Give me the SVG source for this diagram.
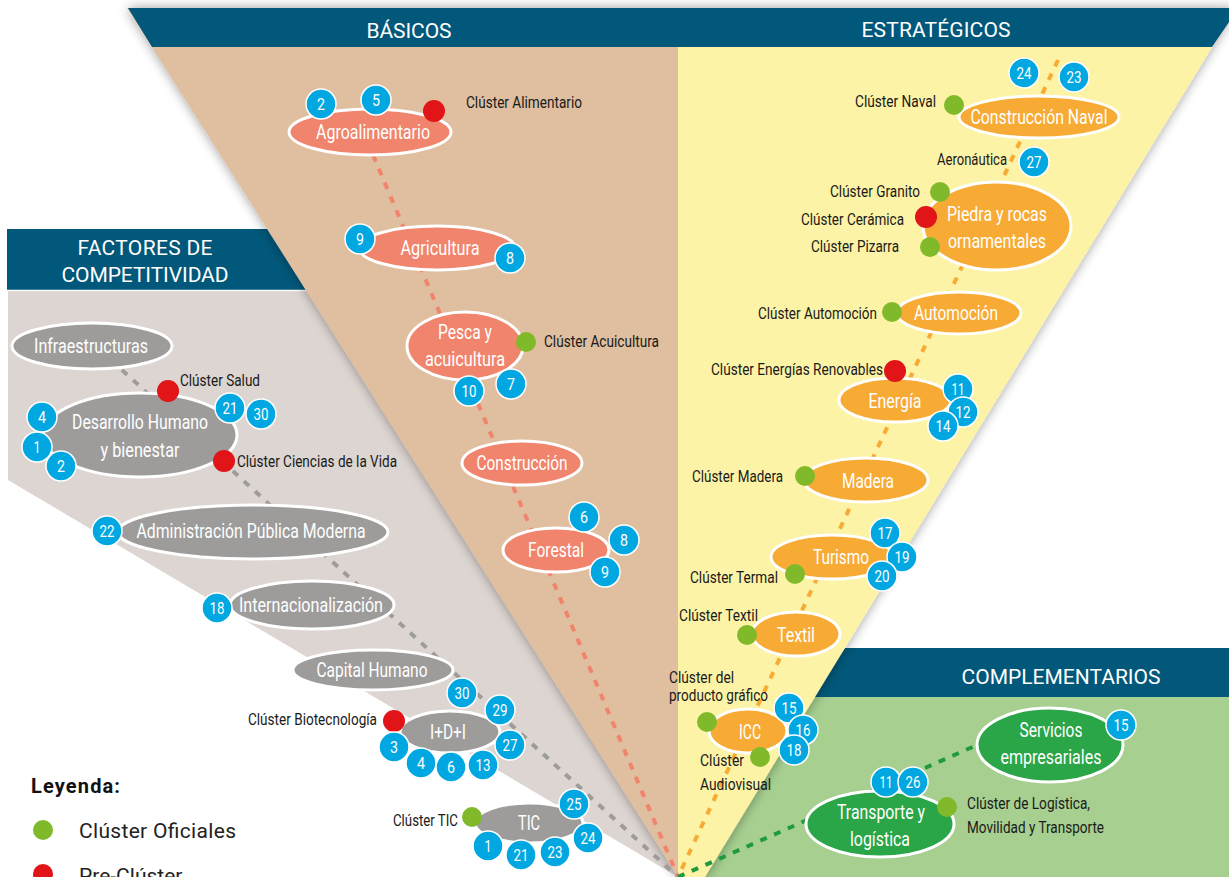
<svg xmlns="http://www.w3.org/2000/svg" width="1229" height="877" viewBox="0 0 1229 877">
<defs>
<filter id="sh" x="-10%" y="-5%" width="120%" height="110%">
<feGaussianBlur in="SourceAlpha" stdDeviation="6"/>
<feComponentTransfer><feFuncA type="linear" slope="0.4"/></feComponentTransfer>
<feMerge><feMergeNode/><feMergeNode in="SourceGraphic"/></feMerge>
</filter>
<style>
.hd{fill:#02587a}
.ht{font-family:Roboto,'DejaVu Sans',sans-serif;font-size:21px;fill:#fff;text-anchor:middle}
.n ellipse{stroke:#fff;stroke-width:3}
.nt{font-family:Roboto,'DejaVu Sans',sans-serif;font-size:20.5px;fill:#fff;text-anchor:middle}
.sal{fill:#f0846c}
.org{fill:#f7ab35}
.grn{fill:#2aa548}
.gry{fill:#9d9c9b}
.b circle{fill:#00a7e1;stroke:#fff;stroke-width:1.5}
.b text{font-family:Roboto,'DejaVu Sans',sans-serif;font-size:17px;fill:#fff;text-anchor:middle}
.lb{font-family:Roboto,'DejaVu Sans',sans-serif;font-size:17px;fill:#1a1a1a}
.le{text-anchor:end}
.gd{fill:#80ba2a}
.rd{fill:#e11418}
.dl{stroke-width:4;stroke-dasharray:7 8;fill:none}
.lg{font-family:Roboto,'DejaVu Sans',sans-serif;font-size:21px;fill:#222}
</style>
</defs>
<rect width="1229" height="877" fill="#fff"/>
<g id="background">
<polygon points="8,290 400,290 678,877 8,480" fill="#ddd5d1"/>
<polygon class="hd" points="7,229 268,229 306,290 7,290"/>
<line x1="7" y1="290.5" x2="306" y2="290.5" stroke="#fff" stroke-width="1.5"/>
<text class="ht" x="145" y="255" textLength="135">FACTORES DE</text>
<text class="ht" x="145" y="282" textLength="167">COMPETITIVIDAD</text>
<polygon points="690,877 820,690 1229,690 1229,877" fill="#a6cf90"/>
<polygon class="hd" points="845,648 1229,648 1229,697 810,697"/>
<text class="ht" x="1061" y="684" textLength="199">COMPLEMENTARIOS</text>
<g filter="url(#sh)">
<polygon points="127,8 678,8 678,877" fill="#dfbf9f"/>
<polygon points="678,8 1236,8 705,877 678,877" fill="#fdf3a6"/>
</g>
<polygon class="hd" points="128,8 678,8 678,47 152,47"/>
<polygon class="hd" points="678,8 1229,8 1229,22 1212,47 678,47"/>
<text class="ht" x="409" y="38" textLength="85">BÁSICOS</text>
<text class="ht" x="936" y="37" textLength="149">ESTRATÉGICOS</text>
</g>
<g id="connectors">
<line class="dl" x1="373" y1="155" x2="678" y2="877" stroke="#f0846c"/>
<line class="dl" x1="122" y1="370" x2="678" y2="877" stroke="#9d9c9b"/>
<line class="dl" x1="1058" y1="60" x2="678" y2="877" stroke="#f7ab35"/>
<line class="dl" x1="678" y1="877" x2="977" y2="745" stroke="#1f9a3e"/>
</g>
<g id="agroalimentario" class="n">
<ellipse class="sal" cx="370" cy="132" rx="81" ry="23"/>
<text class="nt" x="373" y="139" textLength="114" lengthAdjust="spacingAndGlyphs">Agroalimentario</text>
<circle class="rd" cx="434" cy="111" r="11"/>
<text class="lb" x="466" y="108" textLength="116" lengthAdjust="spacingAndGlyphs">Clúster Alimentario</text>
<g class="b"><circle cx="321" cy="104" r="15"/><text x="321" y="110" textLength="8" lengthAdjust="spacingAndGlyphs">2</text></g>
<g class="b"><circle cx="376" cy="100" r="15"/><text x="376" y="106" textLength="8" lengthAdjust="spacingAndGlyphs">5</text></g>
</g>
<g id="agricultura" class="n">
<ellipse class="sal" cx="437" cy="248" rx="78" ry="22"/>
<text class="nt" x="440" y="255" textLength="79" lengthAdjust="spacingAndGlyphs">Agricultura</text>
<g class="b"><circle cx="360" cy="239" r="15"/><text x="360" y="245" textLength="8" lengthAdjust="spacingAndGlyphs">9</text></g>
<g class="b"><circle cx="510" cy="258" r="15"/><text x="510" y="264" textLength="8" lengthAdjust="spacingAndGlyphs">8</text></g>
</g>
<g id="pesca" class="n">
<ellipse class="sal" cx="465" cy="346" rx="58" ry="34"/>
<text class="nt" x="465" y="339" textLength="54" lengthAdjust="spacingAndGlyphs">Pesca y</text>
<text class="nt" x="465" y="366" textLength="80" lengthAdjust="spacingAndGlyphs">acuicultura</text>
<circle class="gd" cx="526" cy="342" r="10"/>
<text class="lb" x="544" y="347" textLength="115" lengthAdjust="spacingAndGlyphs">Clúster Acuicultura</text>
<g class="b"><circle cx="469" cy="391" r="15"/><text x="469" y="397" textLength="15" lengthAdjust="spacingAndGlyphs">10</text></g>
<g class="b"><circle cx="511" cy="384" r="15"/><text x="511" y="390" textLength="8" lengthAdjust="spacingAndGlyphs">7</text></g>
</g>
<g id="construccion" class="n">
<ellipse class="sal" cx="522" cy="463" rx="60" ry="22"/>
<text class="nt" x="522" y="470" textLength="91" lengthAdjust="spacingAndGlyphs">Construcción</text>
</g>
<g id="forestal" class="n">
<ellipse class="sal" cx="556" cy="550" rx="53" ry="22"/>
<text class="nt" x="556" y="557" textLength="56" lengthAdjust="spacingAndGlyphs">Forestal</text>
<g class="b"><circle cx="584" cy="517" r="15"/><text x="584" y="523" textLength="8" lengthAdjust="spacingAndGlyphs">6</text></g>
<g class="b"><circle cx="624" cy="540" r="15"/><text x="624" y="546" textLength="8" lengthAdjust="spacingAndGlyphs">8</text></g>
<g class="b"><circle cx="605" cy="572" r="15"/><text x="605" y="578" textLength="8" lengthAdjust="spacingAndGlyphs">9</text></g>
</g>
<g id="infraestructuras" class="n">
<ellipse class="gry" cx="92" cy="346" rx="80" ry="23"/>
<text class="nt" x="91" y="353" textLength="114" lengthAdjust="spacingAndGlyphs">Infraestructuras</text>
</g>
<g id="desarrollo" class="n">
<ellipse class="gry" cx="140" cy="435" rx="97" ry="42"/>
<text class="nt" x="140" y="429" textLength="136" lengthAdjust="spacingAndGlyphs">Desarrollo Humano</text>
<text class="nt" x="140" y="457" textLength="79" lengthAdjust="spacingAndGlyphs">y bienestar</text>
<circle class="rd" cx="168" cy="391" r="11"/>
<text class="lb" x="180" y="386" textLength="80" lengthAdjust="spacingAndGlyphs">Clúster Salud</text>
<circle class="rd" cx="224" cy="461" r="11"/>
<text class="lb" x="237" y="467" textLength="160" lengthAdjust="spacingAndGlyphs">Clúster Ciencias de la Vida</text>
<g class="b"><circle cx="42" cy="417" r="15"/><text x="42" y="423" textLength="8" lengthAdjust="spacingAndGlyphs">4</text></g>
<g class="b"><circle cx="37" cy="447" r="15"/><text x="37" y="453" textLength="7" lengthAdjust="spacingAndGlyphs">1</text></g>
<g class="b"><circle cx="61" cy="466" r="15"/><text x="61" y="472" textLength="8" lengthAdjust="spacingAndGlyphs">2</text></g>
<g class="b"><circle cx="230" cy="408" r="15"/><text x="230" y="414" textLength="15" lengthAdjust="spacingAndGlyphs">21</text></g>
<g class="b"><circle cx="261" cy="414" r="15"/><text x="261" y="420" textLength="15" lengthAdjust="spacingAndGlyphs">30</text></g>
</g>
<g id="administracion" class="n">
<ellipse class="gry" cx="253" cy="532" rx="135" ry="27"/>
<text class="nt" x="251" y="538" textLength="229" lengthAdjust="spacingAndGlyphs">Administración Pública Moderna</text>
<g class="b"><circle cx="107" cy="531" r="15"/><text x="107" y="537" textLength="15" lengthAdjust="spacingAndGlyphs">22</text></g>
</g>
<g id="internacionalizacion" class="n">
<ellipse class="gry" cx="312" cy="605" rx="82" ry="24"/>
<text class="nt" x="311" y="612" textLength="144" lengthAdjust="spacingAndGlyphs">Internacionalización</text>
<g class="b"><circle cx="217" cy="608" r="15"/><text x="217" y="614" textLength="15" lengthAdjust="spacingAndGlyphs">18</text></g>
</g>
<g id="capital" class="n">
<ellipse class="gry" cx="373" cy="670" rx="80" ry="20"/>
<text class="nt" x="372" y="677" textLength="111" lengthAdjust="spacingAndGlyphs">Capital Humano</text>
</g>
<g id="idi" class="n">
<ellipse class="gry" cx="450" cy="732" rx="50" ry="21"/>
<text class="nt" x="448" y="739" textLength="36" lengthAdjust="spacingAndGlyphs">I+D+I</text>
<circle class="rd" cx="394" cy="721" r="11"/>
<text class="lb le" x="377" y="725" textLength="129" lengthAdjust="spacingAndGlyphs">Clúster Biotecnología</text>
<g class="b"><circle cx="462" cy="693" r="15"/><text x="462" y="699" textLength="15" lengthAdjust="spacingAndGlyphs">30</text></g>
<g class="b"><circle cx="500" cy="710" r="15"/><text x="500" y="716" textLength="15" lengthAdjust="spacingAndGlyphs">29</text></g>
<g class="b"><circle cx="510" cy="745" r="15"/><text x="510" y="751" textLength="15" lengthAdjust="spacingAndGlyphs">27</text></g>
<g class="b"><circle cx="394" cy="747" r="15"/><text x="394" y="753" textLength="8" lengthAdjust="spacingAndGlyphs">3</text></g>
<g class="b"><circle cx="421" cy="763" r="15"/><text x="421" y="769" textLength="8" lengthAdjust="spacingAndGlyphs">4</text></g>
<g class="b"><circle cx="451" cy="767" r="15"/><text x="451" y="773" textLength="8" lengthAdjust="spacingAndGlyphs">6</text></g>
<g class="b"><circle cx="483" cy="765" r="15"/><text x="483" y="771" textLength="15" lengthAdjust="spacingAndGlyphs">13</text></g>
</g>
<g id="tic" class="n">
<ellipse class="gry" cx="529" cy="823" rx="54" ry="20"/>
<text class="nt" x="529" y="830" textLength="22" lengthAdjust="spacingAndGlyphs">TIC</text>
<circle class="gd" cx="472" cy="817" r="10"/>
<text class="lb le" x="458" y="826" textLength="65" lengthAdjust="spacingAndGlyphs">Clúster TIC</text>
<g class="b"><circle cx="574" cy="804" r="15"/><text x="574" y="810" textLength="15" lengthAdjust="spacingAndGlyphs">25</text></g>
<g class="b"><circle cx="588" cy="838" r="15"/><text x="588" y="844" textLength="15" lengthAdjust="spacingAndGlyphs">24</text></g>
<g class="b"><circle cx="488" cy="846" r="15"/><text x="488" y="852" textLength="7" lengthAdjust="spacingAndGlyphs">1</text></g>
<g class="b"><circle cx="521" cy="855" r="15"/><text x="521" y="861" textLength="15" lengthAdjust="spacingAndGlyphs">21</text></g>
<g class="b"><circle cx="555" cy="852" r="15"/><text x="555" y="858" textLength="15" lengthAdjust="spacingAndGlyphs">23</text></g>
</g>
<g id="construccion-naval" class="n">
<ellipse class="org" cx="1039" cy="117" rx="80" ry="21"/>
<text class="nt" x="1039" y="124" textLength="137" lengthAdjust="spacingAndGlyphs">Construcción Naval</text>
<circle class="gd" cx="954" cy="105" r="10"/>
<text class="lb le" x="936" y="107" textLength="81" lengthAdjust="spacingAndGlyphs">Clúster Naval</text>
<g class="b"><circle cx="1024" cy="73" r="15"/><text x="1024" y="79" textLength="15" lengthAdjust="spacingAndGlyphs">24</text></g>
<g class="b"><circle cx="1074" cy="77" r="15"/><text x="1074" y="83" textLength="15" lengthAdjust="spacingAndGlyphs">23</text></g>
</g>
<g id="aeronautica" class="n">
<text class="lb le" x="1007" y="165" textLength="70" lengthAdjust="spacingAndGlyphs">Aeronáutica</text>
<g class="b"><circle cx="1034" cy="162" r="15"/><text x="1034" y="168" textLength="15" lengthAdjust="spacingAndGlyphs">27</text></g>
</g>
<g id="piedra" class="n">
<ellipse class="org" cx="997" cy="226" rx="74" ry="44"/>
<text class="nt" x="997" y="221" textLength="100" lengthAdjust="spacingAndGlyphs">Piedra y rocas</text>
<text class="nt" x="997" y="248" textLength="98" lengthAdjust="spacingAndGlyphs">ornamentales</text>
<circle class="gd" cx="940" cy="192" r="10"/>
<text class="lb le" x="920" y="197" textLength="90" lengthAdjust="spacingAndGlyphs">Clúster Granito</text>
<circle class="rd" cx="926" cy="217" r="11"/>
<text class="lb le" x="904" y="225" textLength="103" lengthAdjust="spacingAndGlyphs">Clúster Cerámica</text>
<circle class="gd" cx="930" cy="247" r="10"/>
<text class="lb le" x="899" y="252" textLength="88" lengthAdjust="spacingAndGlyphs">Clúster Pizarra</text>
</g>
<g id="automocion" class="n">
<ellipse class="org" cx="959" cy="313" rx="62" ry="21"/>
<text class="nt" x="956" y="320" textLength="84" lengthAdjust="spacingAndGlyphs">Automoción</text>
<circle class="gd" cx="892" cy="312" r="10"/>
<text class="lb le" x="877" y="319" textLength="119" lengthAdjust="spacingAndGlyphs">Clúster Automoción</text>
</g>
<g id="energia" class="n">
<ellipse class="org" cx="895" cy="400" rx="56" ry="22"/>
<text class="nt" x="895" y="408" textLength="53" lengthAdjust="spacingAndGlyphs">Energía</text>
<circle class="rd" cx="895" cy="371" r="11"/>
<text class="lb le" x="883" y="375" textLength="172" lengthAdjust="spacingAndGlyphs">Clúster Energías Renovables</text>
<g class="b"><circle cx="958" cy="389" r="15"/><text x="958" y="395" textLength="13" lengthAdjust="spacingAndGlyphs">11</text></g>
<g class="b"><circle cx="963" cy="412" r="15"/><text x="963" y="418" textLength="15" lengthAdjust="spacingAndGlyphs">12</text></g>
<g class="b"><circle cx="943" cy="426" r="15"/><text x="943" y="432" textLength="15" lengthAdjust="spacingAndGlyphs">14</text></g>
</g>
<g id="madera" class="n">
<ellipse class="org" cx="866" cy="480" rx="62" ry="22"/>
<text class="nt" x="868" y="488" textLength="52" lengthAdjust="spacingAndGlyphs">Madera</text>
<circle class="gd" cx="805" cy="476" r="10"/>
<text class="lb le" x="783" y="482" textLength="91" lengthAdjust="spacingAndGlyphs">Clúster Madera</text>
</g>
<g id="turismo" class="n">
<ellipse class="org" cx="832" cy="557" rx="61" ry="22"/>
<text class="nt" x="841" y="564" textLength="56" lengthAdjust="spacingAndGlyphs">Turismo</text>
<g class="b"><circle cx="885" cy="533" r="15"/><text x="885" y="539" textLength="15" lengthAdjust="spacingAndGlyphs">17</text></g>
<g class="b"><circle cx="902" cy="557" r="15"/><text x="902" y="563" textLength="15" lengthAdjust="spacingAndGlyphs">19</text></g>
<g class="b"><circle cx="882" cy="576" r="15"/><text x="882" y="582" textLength="15" lengthAdjust="spacingAndGlyphs">20</text></g>
<circle class="gd" cx="795" cy="574" r="10"/>
<text class="lb le" x="778" y="583" textLength="88" lengthAdjust="spacingAndGlyphs">Clúster Termal</text>
</g>
<g id="textil" class="n">
<ellipse class="org" cx="796" cy="634" rx="44" ry="22"/>
<text class="nt" x="796" y="642" textLength="38" lengthAdjust="spacingAndGlyphs">Textil</text>
<circle class="gd" cx="747" cy="635" r="10"/>
<text class="lb" x="679" y="621" textLength="79" lengthAdjust="spacingAndGlyphs">Clúster Textil</text>
</g>
<g id="icc" class="n">
<ellipse class="org" cx="748" cy="731" rx="39" ry="22"/>
<text class="nt" x="750" y="739" textLength="22" lengthAdjust="spacingAndGlyphs">ICC</text>
<circle class="gd" cx="707" cy="722" r="10"/>
<text class="lb" x="669" y="683" textLength="65" lengthAdjust="spacingAndGlyphs">Clúster del</text>
<text class="lb" x="669" y="701" textLength="99" lengthAdjust="spacingAndGlyphs">producto gráfico</text>
<g class="b"><circle cx="789" cy="708" r="15"/><text x="789" y="714" textLength="15" lengthAdjust="spacingAndGlyphs">15</text></g>
<g class="b"><circle cx="803" cy="730" r="15"/><text x="803" y="736" textLength="15" lengthAdjust="spacingAndGlyphs">16</text></g>
<g class="b"><circle cx="794" cy="750" r="15"/><text x="794" y="756" textLength="15" lengthAdjust="spacingAndGlyphs">18</text></g>
<circle class="gd" cx="760" cy="757" r="10"/>
<text class="lb" x="700" y="766" textLength="44" lengthAdjust="spacingAndGlyphs">Clúster</text>
<text class="lb" x="700" y="790" textLength="71" lengthAdjust="spacingAndGlyphs">Audiovisual</text>
</g>
<g id="servicios" class="n">
<ellipse class="grn" cx="1050" cy="745" rx="73" ry="37"/>
<text class="nt" x="1051" y="737" textLength="63" lengthAdjust="spacingAndGlyphs">Servicios</text>
<text class="nt" x="1051" y="764" textLength="101" lengthAdjust="spacingAndGlyphs">empresariales</text>
<g class="b"><circle cx="1121" cy="725" r="15"/><text x="1121" y="731" textLength="15" lengthAdjust="spacingAndGlyphs">15</text></g>
</g>
<g id="transporte" class="n">
<ellipse class="grn" cx="880" cy="824" rx="74" ry="33"/>
<text class="nt" x="881" y="819" textLength="88" lengthAdjust="spacingAndGlyphs">Transporte y</text>
<text class="nt" x="880" y="846" textLength="60" lengthAdjust="spacingAndGlyphs">logística</text>
<g class="b"><circle cx="886" cy="782" r="15"/><text x="886" y="788" textLength="13" lengthAdjust="spacingAndGlyphs">11</text></g>
<g class="b"><circle cx="913" cy="782" r="15"/><text x="913" y="788" textLength="15" lengthAdjust="spacingAndGlyphs">26</text></g>
<circle class="gd" cx="947" cy="807" r="10"/>
<text class="lb" x="967" y="809" textLength="123" lengthAdjust="spacingAndGlyphs">Clúster de Logística,</text>
<text class="lb" x="967" y="833" textLength="137" lengthAdjust="spacingAndGlyphs">Movilidad y Transporte</text>
</g>
<g id="leyenda">
<text x="31" y="793" font-family="Roboto,'DejaVu Sans',sans-serif" font-weight="bold" font-size="20" fill="#111" textLength="89">Leyenda:</text>
<circle class="gd" cx="43" cy="830" r="10"/>
<text class="lg" x="79" y="838" textLength="157">Clúster Oficiales</text>
<circle class="rd" cx="43" cy="874" r="10"/>
<text class="lg" x="79" y="883">Pre-Clúster</text>
</g>
</svg>
